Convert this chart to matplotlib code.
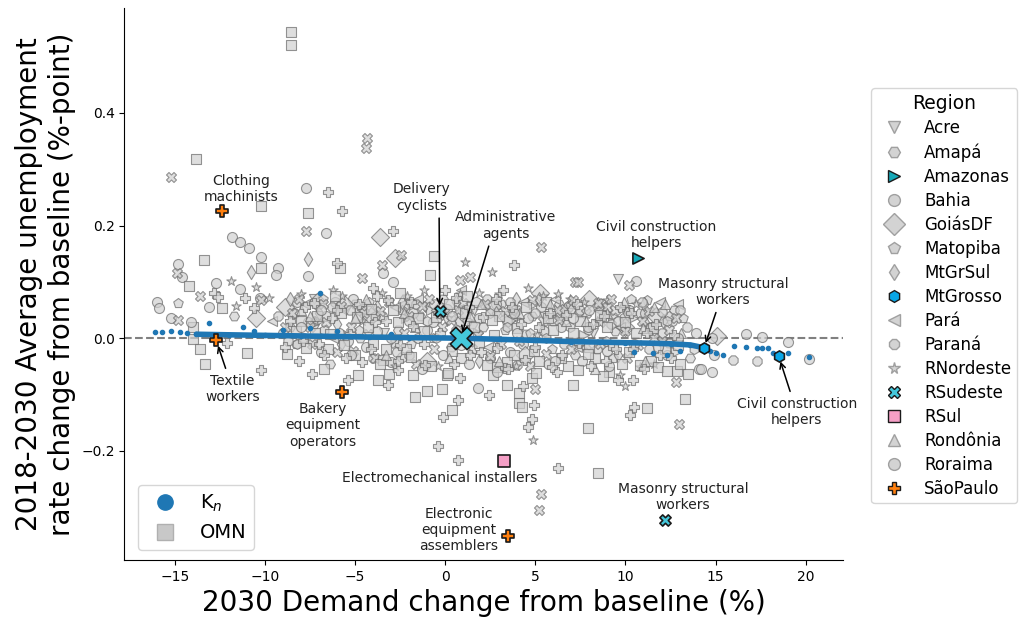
import matplotlib
matplotlib.use("Agg")
import matplotlib.pyplot as plt
from matplotlib.lines import Line2D

# grey cloud: occupation points per region (x = demand change %, y = unemployment change)
acre = [(9.6, 0.105), (-7.3, 0.07), (-3.4, 0.01), (0.1, 0.03), (2.8, -0.005), (5.5, 0.04),
        (8.2, 0.01), (12.0, -0.01), (-1.1, 0.055),
        (-5.5, 0.05), (-2.0, 0.06), (1.6, 0.05), (6.6, 0.05), (10.0, 0.05)]
amapa = [(-8.6, 0.02), (-4.7, 0.0), (-1.4, 0.04), (2.1, 0.02), (4.8, 0.04), (7.9, 0.015),
         (10.8, 0.045), (12.7, 0.05), (-6.4, -0.045), (0.3, -0.015), (13.6, -0.035), (-11.7, 0.04),
         (-7.3, 0.025), (-5.0, 0.06), (-2.6, 0.015), (-0.1, 0.07), (1.5, 0.025), (3.1, 0.06),
         (4.5, 0.008), (6.3, 0.06), (7.2, -0.03), (9.4, 0.012), (11.0, 0.028), (12.4, -0.008)]
amazonas = [(-5.4, 0.005), (-2.2, 0.035), (1.8, 0.01), (4.9, 0.06), (7.7, 0.005), (10.4, 0.035),
            (12.8, -0.025), (-7.0, 0.03), (-0.8, 0.05), (3.9, 0.035), (6.4, 0.04), (9.3, 0.04)]
bahia = [(-7.7, 0.266), (-6.6, 0.186), (-11.8, 0.18), (-11.4, 0.171), (-10.9, 0.16), (-10.2, 0.144),
         (-14.8, 0.131), (-14.6, 0.109), (-9.3, 0.124), (-9.4, 0.112), (-12.7, 0.098), (-11.4, 0.088),
         (-16.0, 0.064), (-15.9, 0.053), (-15.2, 0.036), (-10.3, 0.072), (-13.1, 0.056), (-7.6, 0.11),
         (-3.45, 0.115), (-2.9, 0.1), (10.6, 0.101), (1.8, -0.089), (-2.4, -0.034), (14.1, -0.055),
         (14.8, -0.06), (14.2, -0.054), (13.9, 0.009),
         (-8.2, 0.065), (-7.4, -0.005), (-6.6, 0.04), (-5.9, 0.01), (-5.1, 0.07), (-4.4, -0.015),
         (-3.5, 0.04), (-2.7, -0.025), (-1.8, 0.045), (-1.0, 0.015), (-0.1, -0.03), (0.8, 0.03),
         (1.7, 0.065), (2.5, -0.035), (3.4, 0.03), (4.3, -0.01), (5.3, 0.055), (6.4, 0.02),
         (7.6, -0.04), (8.7, 0.06), (9.9, 0.035), (11.1, 0.045), (12.6, 0.03),
         (-9.0, 0.01), (-8.4, 0.045), (-7.6, 0.028), (-6.9, -0.025), (-6.1, 0.065), (-5.4, -0.005),
         (-4.7, 0.05), (-3.8, 0.012), (-3.0, -0.042), (-2.3, 0.058), (-1.5, 0.0), (-0.7, 0.028),
         (0.1, 0.052), (0.9, -0.012), (1.9, 0.035), (2.8, 0.06), (3.6, -0.025), (4.6, 0.035),
         (5.5, 0.012), (6.8, 0.055), (7.9, 0.02), (9.0, -0.022), (10.2, 0.05), (11.4, 0.02),
         (12.3, -0.03)]
goiasdf = [(-3.6, 0.179), (-2.8, 0.142), (5.25, 0.08), (15.1, 0.004), (-5.6, 0.06), (-0.3, 0.05),
           (2.6, 0.055), (8.0, 0.07), (-8.9, 0.055), (10.0, 0.02), (-1.0, -0.04), (4.4, -0.03),
           (-10.5, 0.035), (-7.1, 0.065), (-4.1, 0.04), (1.0, 0.045), (3.5, 0.035), (6.5, 0.045),
           (11.7, 0.04)]
matopiba = [(-14.8, 0.062), (11.2, 0.068), (-8.3, -0.01), (-4.2, 0.065), (-0.7, 0.0), (3.3, 0.015),
            (6.9, 0.06), (9.3, -0.035), (12.4, 0.04), (-2.4, 0.05), (5.9, -0.02),
            (-6.8, 0.07), (-4.8, 0.015), (-1.9, -0.01), (1.2, 0.03), (4.7, 0.01), (7.4, 0.045),
            (10.3, 0.07), (13.2, 0.035)]
mtgrsul = [(-7.6, 0.14), (-10.8, 0.118), (10.1, 0.044), (-7.0, 0.045), (-3.8, 0.055), (0.6, 0.065),
           (3.9, 0.07), (7.0, 0.05), (9.6, -0.03), (12.1, 0.03), (-5.8, -0.01), (1.9, -0.04),
           (-8.6, 0.07), (-6.0, 0.025), (-2.4, 0.065), (-0.2, 0.045), (2.8, 0.045), (5.2, 0.07),
           (8.5, 0.06), (11.0, 0.06)]
mtgrosso = [(-6.7, 0.015), (-3.9, 0.04), (-0.5, 0.0), (2.5, 0.045), (5.6, 0.0), (8.9, -0.005),
            (11.5, 0.01), (13.8, -0.02), (-8.2, -0.01), (-1.0, 0.03), (3.4, 0.02), (6.9, 0.02),
            (12.3, 0.03)]
para = [(-6.2, 0.0), (-2.8, 0.055), (0.9, 0.085), (3.7, 0.04), (6.1, 0.07), (8.5, 0.05),
        (11.9, 0.065), (-9.6, 0.03), (2.4, -0.015), (7.3, -0.015),
        (-7.8, 0.06), (-4.6, 0.05), (-1.5, 0.07), (4.3, 0.065), (9.7, 0.02), (12.9, 0.06)]
parana = [(15.95, -0.039), (17.3, -0.041), (12.0, 0.046), (-7.9, 0.0), (-5.3, 0.05), (-2.0, -0.03),
          (1.0, 0.0), (3.6, 0.065), (6.6, -0.01), (9.2, 0.025), (11.3, -0.02), (13.4, 0.02),
          (-9.3, 0.04), (-0.6, 0.06), (5.7, -0.045),
          (-8.7, -0.005), (-6.3, 0.055), (-4.0, -0.035), (-1.6, 0.06), (0.6, 0.015), (2.3, 0.07),
          (4.0, -0.048), (5.0, 0.045), (6.0, 0.03), (7.5, 0.05), (8.4, -0.02), (9.6, 0.03),
          (10.9, 0.065), (12.0, 0.01), (13.0, 0.05)]
rnordeste = [(-11.9, 0.101), (-10.5, 0.091), (-11.6, 0.057), (1.1, 0.135), (2.6, 0.117), (6.25, 0.079),
             (10.8, -0.052), (4.85, -0.18), (-9.8, 0.072), (9.7, -0.065), (10.0, -0.085), (-6.2, 0.085),
             (-2.1, 0.075), (1.9, 0.08), (4.6, 0.09), (7.7, 0.065), (-7.2, 0.03), (-0.4, -0.05),
             (5.1, 0.005), (8.4, 0.03), (11.6, -0.045), (-4.6, 0.03),
             (-8.0, 0.078), (-5.7, 0.075), (-3.5, 0.08), (-1.2, 0.085), (0.8, 0.078), (3.0, 0.078),
             (5.4, 0.075), (6.9, 0.07), (9.0, 0.068), (10.6, 0.06), (-2.8, -0.05), (3.9, -0.05)]
rsudeste = [(-15.2, 0.286), (-4.35, 0.355), (-4.4, 0.338), (-7.7, 0.19), (-14.9, 0.115), (-13.6, 0.075),
            (-14.8, 0.032), (-10.2, 0.068), (5.3, 0.162), (-2.45, 0.147), (-3.5, 0.13), (0.8, 0.103),
            (1.35, 0.108), (7.2, 0.1), (7.35, 0.1), (10.2, 0.094), (-4.6, 0.107), (8.45, 0.062),
            (8.95, 0.055), (5.0, -0.091), (12.95, -0.153), (5.3, -0.277), (5.2, -0.305), (12.8, -0.078),
            (-8.5, 0.045), (-7.5, 0.02), (-6.8, 0.06), (-6.0, -0.025), (-5.2, 0.02), (-4.5, 0.045),
            (-3.9, -0.035), (-3.1, 0.065), (-2.3, 0.01), (-1.6, -0.045), (-0.9, 0.07), (-0.2, 0.02),
            (0.7, 0.05), (1.5, -0.02), (2.2, 0.06), (3.1, -0.01), (3.9, 0.05), (4.7, -0.05),
            (5.4, 0.03), (6.2, 0.05), (7.0, -0.02), (7.8, 0.045), (8.6, -0.01), (9.4, 0.05),
            (10.1, -0.035), (10.9, 0.03), (11.6, 0.0), (12.4, 0.015),
            (-8.9, 0.02), (-8.1, 0.07), (-7.4, -0.01), (-6.6, 0.028), (-5.8, 0.058), (-5.1, -0.022),
            (-4.3, 0.008), (-3.6, 0.048), (-2.8, -0.008), (-2.0, 0.04), (-1.3, 0.058), (-0.6, -0.02),
            (0.3, 0.032), (1.0, 0.062), (1.8, 0.005), (2.5, -0.032), (3.3, 0.048), (4.1, -0.005),
            (4.8, 0.068), (5.6, -0.028), (6.3, 0.032), (7.1, 0.068), (7.8, -0.012), (8.6, 0.028),
            (9.2, 0.07), (10.0, 0.012), (10.7, -0.012), (11.3, 0.048), (12.0, -0.005), (12.8, 0.035)]
rsul = [(-8.55, 0.543), (-8.55, 0.52), (-13.8, 0.318), (-10.2, 0.235), (-7.6, 0.222), (-14.2, 0.092),
        (-14.0, 0.02), (-14.0, -0.001), (-13.6, -0.02), (-13.3, -0.046), (-12.4, 0.053), (-10.2, 0.124),
        (-13.4, 0.138), (-11.0, -0.027), (-6.7, -0.054), (-4.85, -0.066), (-3.45, -0.038),
        (-3.75, -0.075), (-1.8, -0.066), (-1.7, -0.105), (-1.0, -0.094), (-0.2, -0.091), (0.35, -0.128),
        (3.4, -0.083), (0.1, -0.066), (7.1, -0.083), (4.8, -0.071), (4.1, -0.115), (4.25, -0.122),
        (7.9, -0.16), (11.2, -0.124), (13.3, -0.108), (8.5, -0.24), (9.1, -0.06), (8.75, -0.068),
        (13.45, -0.064), (12.85, -0.059), (-0.6, 0.146), (-0.85, 0.112), (-5.85, 0.124), (4.1, -0.098),
        (5.05, -0.062), (7.35, -0.057), (2.65, -0.066), (2.9, -0.051), (0.15, -0.062), (-3.1, -0.063),
        (-8.8, -0.028),
        (-8.0, 0.03), (-7.2, 0.01), (-6.5, -0.02), (-5.8, 0.045), (-5.0, -0.03), (-4.3, 0.02),
        (-3.6, -0.045), (-2.9, 0.05), (-2.2, -0.02), (-1.5, 0.035), (-0.8, -0.05), (0.2, 0.06),
        (0.9, -0.035), (1.6, 0.02), (2.3, -0.048), (3.0, 0.04), (3.8, -0.03), (4.5, 0.055),
        (5.2, -0.04), (6.0, 0.015), (6.8, -0.05), (7.5, 0.03), (8.3, -0.035), (9.0, 0.02),
        (9.8, -0.045), (10.6, 0.01), (11.4, -0.04), (12.2, -0.02), (13.0, -0.045), (-6.1, 0.075),
        (-2.5, 0.08), (1.2, 0.075), (5.6, 0.065), (-4.0, -0.01), (2.7, 0.005), (8.0, -0.015),
        (10.2, -0.025), (11.8, -0.052),
        (-8.3, 0.012), (-7.7, -0.018), (-7.1, 0.04), (-6.4, 0.008), (-5.6, -0.012), (-4.9, 0.038),
        (-4.1, 0.052), (-3.3, -0.02), (-2.6, 0.028), (-1.9, -0.033), (-1.2, 0.012), (-0.5, 0.038),
        (0.4, -0.022), (1.1, 0.045), (1.9, -0.008), (2.6, 0.032), (3.4, -0.042), (4.0, 0.018),
        (4.9, -0.022), (5.7, 0.035), (6.4, -0.036), (7.1, 0.01), (7.9, -0.028), (8.6, 0.042),
        (9.3, -0.012), (10.0, 0.028), (10.8, -0.048), (11.5, 0.018), (12.3, -0.058), (12.9, -0.012)]
rondonia = [(10.95, 0.018), (-8.0, 0.05), (-5.0, 0.035), (-1.7, 0.02), (1.4, 0.04), (4.1, 0.045),
            (6.7, 0.03), (9.0, 0.045), (11.6, 0.055), (13.1, 0.01), (-3.3, -0.03), (3.0, -0.04),
            (8.3, -0.055), (-7.5, 0.04), (-4.4, 0.07), (-2.3, 0.045), (0.2, -0.035), (2.0, 0.06),
            (5.8, 0.06), (7.8, 0.03), (9.9, 0.065), (11.1, -0.04), (12.2, 0.06)]
roraima = [(16.7, 0.007), (17.6, 0.002), (19.0, -0.007), (14.9, -0.029), (20.2, -0.037), (14.8, 0.0),
           (-14.1, 0.029), (-6.9, 0.05), (-3.0, 0.0), (0.4, 0.04), (4.0, 0.01), (7.1, 0.035),
           (10.5, -0.01), (12.9, 0.0), (-1.3, -0.055), (2.9, -0.06), (9.1, -0.05),
           (-8.0, 0.02), (-5.2, -0.03), (-2.0, 0.03), (1.3, -0.045), (3.8, 0.045), (6.1, -0.04),
           (8.0, 0.05), (11.8, -0.015)]
saopaulo = [(-6.5, 0.26), (-5.75, 0.226), (-2.9, 0.19), (-6.0, 0.133), (-12.8, 0.08), (-12.6, 0.073),
            (-11.1, 0.072), (-10.6, 0.053), (-12.1, -0.009), (-10.2, -0.057), (-8.1, -0.041),
            (-7.4, -0.063), (-5.4, -0.075), (-3.2, -0.083), (0.7, -0.11), (-0.1, -0.14), (-0.4, -0.192),
            (0.7, -0.217), (2.45, -0.101), (4.3, -0.085), (4.9, -0.118), (4.8, -0.144), (4.6, -0.157),
            (10.25, -0.137), (10.5, -0.122), (6.25, -0.231), (9.6, -0.075), (10.4, -0.075), (-4.0, 0.089),
            (0.8, -0.071), (-2.6, -0.057), (3.3, -0.053), (-8.9, -0.016), (3.8, 0.13),
            (-7.8, 0.055), (-7.0, -0.01), (-6.3, 0.035), (-5.5, -0.035), (-4.8, 0.06), (-4.1, -0.02),
            (-3.3, 0.03), (-2.6, -0.04), (-1.9, 0.065), (-1.2, -0.01), (-0.4, 0.045), (0.5, -0.045),
            (1.3, 0.055), (2.0, -0.025), (2.8, 0.07), (3.5, -0.055), (4.2, 0.025), (5.0, -0.015),
            (5.8, 0.045), (6.5, -0.03), (7.3, 0.06), (8.1, -0.05), (8.8, 0.04), (9.5, -0.02),
            (10.3, 0.045), (11.0, -0.055), (11.7, 0.025), (12.5, -0.035), (-3.8, 0.075), (0.0, 0.085),
            (3.2, 0.085), (6.2, -0.06),
            (-8.6, 0.03), (-7.9, -0.005), (-7.3, 0.062), (-6.7, -0.03), (-6.0, 0.05), (-5.3, 0.008),
            (-4.6, -0.042), (-3.9, 0.028), (-3.2, 0.068), (-2.5, -0.012), (-1.8, 0.022), (-1.1, -0.048),
            (-0.3, 0.01), (0.6, 0.072), (1.4, -0.03), (2.1, 0.038), (2.9, -0.018), (3.7, 0.055),
            (4.4, -0.038), (5.2, 0.02), (5.9, -0.052), (6.7, 0.042), (7.4, -0.008), (8.2, 0.025),
            (8.9, -0.04), (9.7, 0.055), (10.4, -0.02), (11.2, 0.01), (11.9, -0.03), (12.7, 0.005)]

regions = ["Acre", "Amapá", "Amazonas", "Bahia", "GoiásDF", "Matopiba", "MtGrSul", "MtGrosso",
           "Pará", "Paraná", "RNordeste", "RSudeste", "RSul", "Rondônia", "Roraima", "SãoPaulo"]
region_points = [acre, amapa, amazonas, bahia, goiasdf, matopiba, mtgrsul, mtgrosso,
                 para, parana, rnordeste, rsudeste, rsul, rondonia, roraima, saopaulo]

# K_n model points and the dense part of the curve
kn_x = [-16.1, -15.7, -15.2, -14.7, -14.3, -13.8, -13.1, -12.0, -11.2, -10.6, -10.0, -9.0, -8.0,
        -7.5, -6.95, -6.0, -4.2, -3.0, -2.0, 0.9, 3.0, 5.0, 7.0, 8.6, 10.0, 10.5, 11.5, 12.3, 12.5,
        13.0, 13.6, 14.5, 14.7, 15.0, 15.4, 16.0, 16.7, 17.3, 17.6, 17.9, 18.2, 19.0, 20.2]
kn_y = [0.011, 0.011, 0.012, 0.011, 0.01, 0.007, 0.027, 0.006, 0.02, 0.013, 0.005, 0.015, 0.004,
        0.018, 0.08, 0.012, 0.002, 0.008, 0.001, 0.0, -0.002, -0.004, -0.006, -0.007, -0.008, -0.025,
        -0.027, -0.03, -0.01, -0.022, -0.012, -0.018, -0.022, -0.027, -0.03, -0.014, -0.016, -0.018,
        -0.018, -0.018, -0.027, -0.027, -0.033]
kn_line_x = [-13.8, -12.0, -10.0, -8.0, -6.0, -4.2, -2.0, 0.9, 3.0, 5.0, 7.0, 8.6, 10.0, 11.5,
             12.5, 13.6, 14.5]
kn_line_y = [0.007, 0.006, 0.005, 0.004, 0.003, 0.002, 0.001, 0.0, -0.002, -0.004, -0.006, -0.007,
             -0.008, -0.009, -0.01, -0.012, -0.018]

# highlighted occupations
hl_region = ["SãoPaulo", "SãoPaulo", "SãoPaulo", "SãoPaulo", "RSudeste", "RSudeste", "RSudeste",
             "Amazonas", "MtGrosso", "MtGrosso", "RSul"]
hl_label = ["Clothing\nmachinists", "Textile\nworkers", "Bakery\nequipment\noperators",
            "Electronic\nequipment\nassemblers", "Delivery\ncyclists", "Administrative\nagents",
            "Masonry structural\nworkers", "Civil construction\nhelpers", "Masonry structural\nworkers",
            "Civil construction\nhelpers", "Electromechanical installers"]
hl_x = [-12.39, -12.7, -5.73, 3.5, -0.3, 0.86, 12.2, 10.7, 14.35, 18.5, 3.25]
hl_y = [0.2256, -0.004, -0.096, -0.352, 0.048, 0.0, -0.323, 0.142, -0.018, -0.032, -0.218]

markers = {"Acre": "v", "Amapá": "H", "Amazonas": ">", "Bahia": "o", "GoiásDF": "D",
           "Matopiba": "p", "MtGrSul": "d", "MtGrosso": "h", "Pará": "<", "Paraná": "8",
           "RNordeste": "*", "RSudeste": "X", "RSul": "s", "Rondônia": "^", "Roraima": "o",
           "SãoPaulo": "P"}
colors = {"Amazonas": "#17a9b8", "MtGrosso": "#0aa6e6", "RSudeste": "#45c8dc",
          "RSul": "#f59fc6", "SãoPaulo": "#ff7f0e"}
sizes = {"GoiásDF": 85, "RNordeste": 50, "RSul": 62}

fig = plt.figure(figsize=(10.19, 6.22), dpi=100)
ax = fig.add_axes([0.122, 0.0997, 0.705, 0.887])

ax.axhline(0, color="grey", ls="--", lw=1.5, zorder=0.5)

for name, pts in zip(regions, region_points):
    xs = [p[0] for p in pts]
    ys = [p[1] for p in pts]
    ax.scatter(xs, ys, marker=markers[name], s=sizes.get(name, 52), facecolor="#d0d0d0",
               edgecolor="#6a6a6a", linewidth=0.8, alpha=0.7, zorder=1)

ax.plot(kn_line_x, kn_line_y, color="#1f77b4", lw=4, solid_capstyle="round", zorder=2)
ax.scatter(kn_x, kn_y, s=9, color="#1f77b4", zorder=2)

for reg, x, y in zip(hl_region, hl_x, hl_y):
    s = 260 if (x, y) == (0.86, 0.0) else 65
    ax.scatter([x], [y], marker=markers[reg], s=s, facecolor=colors[reg],
               edgecolor="#1a1a1a", linewidth=1.2, zorder=4)

# annotations: text position, and where the arrow leaves the text (None = no arrow)
ann = [((-11.3, 0.265), None), ((-11.8, -0.09), (0.5, 0.5)), ((-6.8, -0.155), None),
       ((0.75, -0.341), None), ((-1.3, 0.25), (0.8, 0.0)), ((3.35, 0.2), (0.35, 0.0)),
       ((13.2, -0.282), None), ((11.7, 0.183), None), ((15.4, 0.082), (0.5, 0.5)),
       ((19.5, -0.131), (0.5, 0.5)), ((-0.3, -0.249), None)]
for lab, x, y, (txy, rel) in zip(hl_label, hl_x, hl_y, ann):
    props = None
    if rel is not None:
        props = dict(arrowstyle="->", color="black", lw=1.1, shrinkA=2, shrinkB=4, relpos=rel)
    ax.annotate(lab, xy=(x, y), xytext=txy, ha="center", va="center", fontsize=10,
                color="#222222", arrowprops=props, zorder=5)

ax.set_xlim(-17.8, 22.05)
ax.set_ylim(-0.394, 0.586)
ax.set_xticks([-15, -10, -5, 0, 5, 10, 15, 20])
ax.set_yticks([-0.2, 0.0, 0.2, 0.4])
ax.spines["top"].set_visible(False)
ax.spines["right"].set_visible(False)
ax.set_xlabel("2030 Demand change from baseline (%)", fontsize=20)
ax.set_ylabel("2018-2030 Average unemployment\nrate change from baseline (%-point)", fontsize=20)

handles = []
for name in regions:
    fc = colors.get(name, "#d3d3d3")
    ec = "#1a1a1a" if name in colors else "#a0a0a0"
    ms = 11 if name == "GoiásDF" else 8.5
    handles.append(Line2D([], [], ls="", marker=markers[name], markersize=ms,
                          markerfacecolor=fc, markeredgecolor=ec, label=name))
leg1 = ax.legend(handles=handles, title="Region", loc="upper left", bbox_to_anchor=(1.040, 0.855),
                 fontsize=12, title_fontsize=13.5, borderaxespad=0, labelspacing=0.36,
                 handletextpad=0.8, borderpad=0.35)
ax.add_artist(leg1)

h2 = [Line2D([], [], ls="", marker="o", markersize=11, color="#1f77b4", label="K$_n$"),
      Line2D([], [], ls="", marker="s", markersize=11, markerfacecolor="#c8c8c8",
             markeredgecolor="#b0b0b0", label="OMN")]
ax.legend(handles=h2, loc="lower left", fontsize=14, bbox_to_anchor=(0.005, 0.0))

fig.savefig("out.png", dpi=100)
